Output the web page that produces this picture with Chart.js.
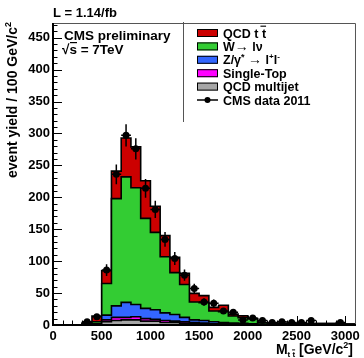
<!DOCTYPE html>
<html>
<head>
<meta charset="utf-8">
<script src="https://cdn.jsdelivr.net/npm/chart.js@4.4.0/dist/chart.umd.min.js"></script>
<style>
  html, body { margin: 0; padding: 0; background: #fff; }
  #mtt { display: block; }
</style>
</head>
<body>
<canvas id="mtt" width="364" height="358"></canvas>
<script>
// M(tt) spectrum, 100 GeV bins, stacked MC + data points

const binEdges = [0, 100, 200, 300, 400, 500, 600, 700, 800, 900, 1000, 1100, 1200, 1300, 1400,
  1500, 1600, 1700, 1800, 1900, 2000, 2100, 2200, 2300, 2400, 2500, 2600, 2700, 2800, 2900, 3000];
const binWidth = 100;

// stack components, bottom to top
const qcdMultijet = [0, 0, 0, 1, 1, 5, 7, 8, 8, 6, 6, 4, 4, 3, 2, 2, 1.5, 1.5, 1, 1, 0.8, 0.5,
  0.3, 0.3, 0.3, 0.3, 0.3, 0.3, 0.3, 0.3, 0.2];
const singleTop = [0, 0, 0, 0.5, 0.5, 3, 5, 4, 5, 4, 3, 3, 2, 2, 2, 1, 0.5, 0.5, 0.5, 0.5, 0.4, 0.2,
  0.1, 0.1, 0.1, 0.1, 0.1, 0.1, 0.1, 0.1, 0.1];
const zJets = [0, 0, 0, 0.5, 0.5, 7.5, 18, 23.5, 19, 16, 15, 12, 10.5, 7, 4, 4, 3, 2, 1.5, 1, 0.8, 0.5,
  0.3, 0.3, 0.3, 0.3, 0.3, 0.3, 0.3, 0.3, 0.2];
const wJets = [0, 0, 0, 0.5, 3, 49.5, 168, 196.5, 183, 141, 121, 88, 65.5, 51.5, 28, 28, 17, 17, 11, 9,
  7.4, 2.4, 1.8, 1.8, 1.6, 1.6, 1.5, 1.5, 1.4, 1.4, 1];
const qcdTtbar = [0, 0, 0, 1.5, 9, 20, 43, 61, 64, 59, 41, 33, 24, 17.5, 13.5, 11, 5.6, 10, 3, 3,
  0.6, 0.4, 0.2, 0.2, 0.2, 0.2, 0.2, 0.2, 0.2, 0.2, 0.1];

// CMS data 2011, bin centres and event counts
const dataMass = [350, 450, 550, 650, 750, 850, 950, 1050, 1150, 1250, 1350, 1450, 1550, 1650,
  1750, 1850, 1950, 2050, 2150, 2250, 2350, 2450, 2550, 2650, 2950];
const dataCounts = [5, 13, 86, 236, 297, 276, 214, 181, 134, 104, 78, 57, 36, 34, 22, 20, 8, 11,
  7, 4, 5, 4, 4, 7, 4];

const xTicks = [0, 500, 1000, 1500, 2000, 2500, 3000];
const yTicks = [0, 50, 100, 150, 200, 250, 300, 350, 400, 450];

const FONT = '"Liberation Sans", Arial, Helvetica, sans-serif';
const bold = px => `bold ${px}px ${FONT}`;

function histPoints(values) {
  const pts = binEdges.map((x, i) => ({ x, y: values[i] }));
  pts.push({ x: binEdges[binEdges.length - 1] + binWidth, y: values[values.length - 1] });
  return pts;
}

function histSet(label, values, color, fill) {
  return {
    type: 'line',
    label,
    data: histPoints(values),
    stack: 'mc',
    stepped: true,
    borderColor: '#000',
    borderWidth: 1.6,
    backgroundColor: color,
    pointRadius: 0,
    fill
  };
}

// text runs: {t, px, dy, bar}
function richWidth(ctx, segs) {
  let w = 0;
  segs.forEach(s => { ctx.font = bold(s.px); w += ctx.measureText(s.t).width; });
  return w;
}

function drawRich(ctx, x, y, segs, align) {
  let cx = align === 'right' ? x - richWidth(ctx, segs) : x;
  segs.forEach(s => {
    ctx.font = bold(s.px);
    const w = ctx.measureText(s.t).width;
    ctx.fillText(s.t, cx, y + (s.dy || 0));
    if (s.bar) {
      ctx.fillRect(cx + w * (s.barFrom || 0), y + (s.dy || 0) - s.px * 0.95, w * (1 - (s.barFrom || 0)), Math.max(1, s.px * 0.09));
    }
    cx += w;
  });
}

const legendRows = [
  { kind: 'box', color: '#cc0000', segs: [{ t: 'QCD t t', px: 12.5, bar: true, barFrom: 0.87 }] },
  { kind: 'box', color: '#33cc33', segs: [{ t: 'W', px: 12.5 }, { t: '\u2192', px: 14 }, { t: ' l\u03bd', px: 12.5 }] },
  { kind: 'box', color: '#3366ff', segs: [{ t: 'Z/\u03b3', px: 12.5 }, { t: '*', px: 9, dy: -4 }, { t: ' ', px: 12.5 }, { t: '\u2192', px: 14 }, { t: ' l', px: 12.5 }, { t: '+', px: 8, dy: -5 }, { t: 'l', px: 12.5 }, { t: '-', px: 8, dy: -5 }] },
  { kind: 'box', color: '#ff00ff', segs: [{ t: 'Single-Top', px: 12.5 }] },
  { kind: 'box', color: '#a6a6a6', segs: [{ t: 'QCD multijet', px: 12.5 }] },
  { kind: 'data', segs: [{ t: 'CMS data 2011', px: 12.5 }] }
];

const rootStyle = {
  id: 'rootStyle',
  beforeDatasetsDraw(chart) {
    const { ctx, chartArea: a, scales: { x, y } } = chart;
    ctx.save();
    ctx.strokeStyle = '#000';
    ctx.lineWidth = 1;
    // minor and major ticks pointing into the frame
    for (let v = 0; v <= 470; v += 10) {
      const py = Math.round(y.getPixelForValue(v)) + 0.5;
      const len = v % 50 === 0 ? 9 : 4.5;
      ctx.beginPath(); ctx.moveTo(a.left, py); ctx.lineTo(a.left + len, py); ctx.stroke();
    }
    for (let v = 0; v <= 3100; v += 100) {
      const px = Math.round(x.getPixelForValue(v)) + 0.5;
      const len = v % 500 === 0 ? 9 : 4.5;
      ctx.beginPath(); ctx.moveTo(px, a.bottom); ctx.lineTo(px, a.bottom - len); ctx.stroke();
    }
    ctx.restore();
  },
  afterDatasetsDraw(chart) {
    const { ctx, scales: { x, y } } = chart;
    ctx.save();
    ctx.strokeStyle = '#000';
    ctx.lineWidth = 1.5;
    dataMass.forEach((m, i) => {
      const n = dataCounts[i];
      const err = Math.sqrt(n);
      const px = x.getPixelForValue(m);
      const py = y.getPixelForValue(n);
      ctx.beginPath();
      ctx.moveTo(px, y.getPixelForValue(n - err));
      ctx.lineTo(px, y.getPixelForValue(n + err));
      ctx.moveTo(x.getPixelForValue(m - binWidth / 2), py);
      ctx.lineTo(x.getPixelForValue(m + binWidth / 2), py);
      ctx.stroke();
    });
    ctx.restore();
  },
  afterDraw(chart) {
    const { ctx, chartArea: a } = chart;
    ctx.save();
    // frame
    ctx.strokeStyle = '#555';
    ctx.lineWidth = 1;
    ctx.beginPath();
    ctx.moveTo(a.left, a.top + 0.5); ctx.lineTo(a.right + 0.5, a.top + 0.5); ctx.lineTo(a.right + 0.5, a.bottom);
    ctx.stroke();
    ctx.strokeStyle = '#000';
    ctx.lineWidth = 2;
    ctx.beginPath();
    ctx.moveTo(a.left, a.top); ctx.lineTo(a.left, a.bottom); ctx.lineTo(a.right + 1, a.bottom);
    ctx.stroke();

    ctx.fillStyle = '#000';
    ctx.textBaseline = 'alphabetic';
    ctx.textAlign = 'left';

    drawRich(ctx, 53, 17, [{ t: 'L = 1.14/fb', px: 13 }]);
    drawRich(ctx, 64, 40, [{ t: 'CMS preliminary', px: 13.5 }]);
    drawRich(ctx, 62, 54, [{ t: '\u221a', px: 13.5 }, { t: 's = 7TeV', px: 13.5 }]);
    ctx.fillRect(70, 42, 7, 1.2);

    // axis titles
    drawRich(ctx, 353, 354, [
      { t: 'M', px: 14 }, { t: 't t', px: 8, dy: 3, bar: true, barFrom: 0.6 },
      { t: ' [GeV/c', px: 14 }, { t: '2', px: 9, dy: -6 }, { t: ']', px: 14 }
    ], 'right');
    ctx.save();
    ctx.translate(17, 22);
    ctx.rotate(-Math.PI / 2);
    drawRich(ctx, 0, 0, [{ t: 'event yield / 100 GeV/c', px: 14 }, { t: '2', px: 9, dy: -6 }], 'right');
    ctx.restore();

    // legend: open-bottomed pave along the frame
    ctx.strokeStyle = '#555';
    ctx.lineWidth = 1;
    ctx.beginPath();
    ctx.moveTo(183.5, 22); ctx.lineTo(183.5, 122);
    ctx.stroke();
    legendRows.forEach((row, i) => {
      const cy = 33 + i * 13.4;
      if (row.kind === 'box') {
        ctx.fillStyle = row.color;
        ctx.fillRect(197, cy - 4, 21, 8);
        ctx.strokeStyle = '#000';
        ctx.lineWidth = 1;
        ctx.strokeRect(197.5, cy - 3.5, 20, 7);
      } else {
        ctx.strokeStyle = '#000';
        ctx.lineWidth = 1.5;
        ctx.beginPath(); ctx.moveTo(197, cy); ctx.lineTo(218, cy); ctx.stroke();
        ctx.fillStyle = '#000';
        ctx.beginPath(); ctx.arc(207.5, cy, 3, 0, Math.PI * 2); ctx.fill();
      }
      ctx.fillStyle = '#000';
      drawRich(ctx, 223, cy + 4.5, row.segs);
    });
    ctx.restore();
  }
};

const tickFont = { family: FONT, size: 13, weight: 'bold' };

new Chart(document.getElementById('mtt'), {
  data: {
    datasets: [
      {
        type: 'scatter',
        label: 'CMS data 2011',
        data: dataMass.map((m, i) => ({ x: m, y: dataCounts[i] })),
        stack: 'data',
        pointRadius: 3.5,
        pointBackgroundColor: '#000',
        pointBorderWidth: 0
      },
      histSet('QCD multijet', qcdMultijet, '#a6a6a6', 'origin'),
      histSet('Single-Top', singleTop, '#ff00ff', '-1'),
      histSet('Z/gamma* -> ll', zJets, '#3366ff', '-1'),
      histSet('W -> l nu', wJets, '#33cc33', '-1'),
      histSet('QCD ttbar', qcdTtbar, '#cc0000', '-1')
    ]
  },
  options: {
    responsive: false,
    devicePixelRatio: 1,
    animation: false,
    events: [],
    layout: { padding: { top: 23, right: 9, left: 0, bottom: 0 } },
    plugins: { legend: { display: false }, tooltip: { enabled: false } },
    scales: {
      x: {
        type: 'linear',
        min: 0,
        max: 3100,
        grid: { display: false, drawTicks: false },
        border: { display: false },
        afterBuildTicks: s => { s.ticks = xTicks.map(value => ({ value })); },
        afterFit: s => { s.height = 33; },
        ticks: { autoSkip: false, maxRotation: 0, padding: 4, color: '#000', font: tickFont, callback: v => String(v) }
      },
      y: {
        type: 'linear',
        stacked: true,
        min: 0,
        max: 473,
        grid: { display: false, drawTicks: false },
        border: { display: false },
        afterBuildTicks: s => { s.ticks = yTicks.map(value => ({ value })); },
        afterFit: s => { s.width = 53; },
        ticks: { padding: 3, color: '#000', font: tickFont, callback: v => String(v) }
      }
    }
  },
  plugins: [rootStyle]
});
</script>
</body>
</html>
